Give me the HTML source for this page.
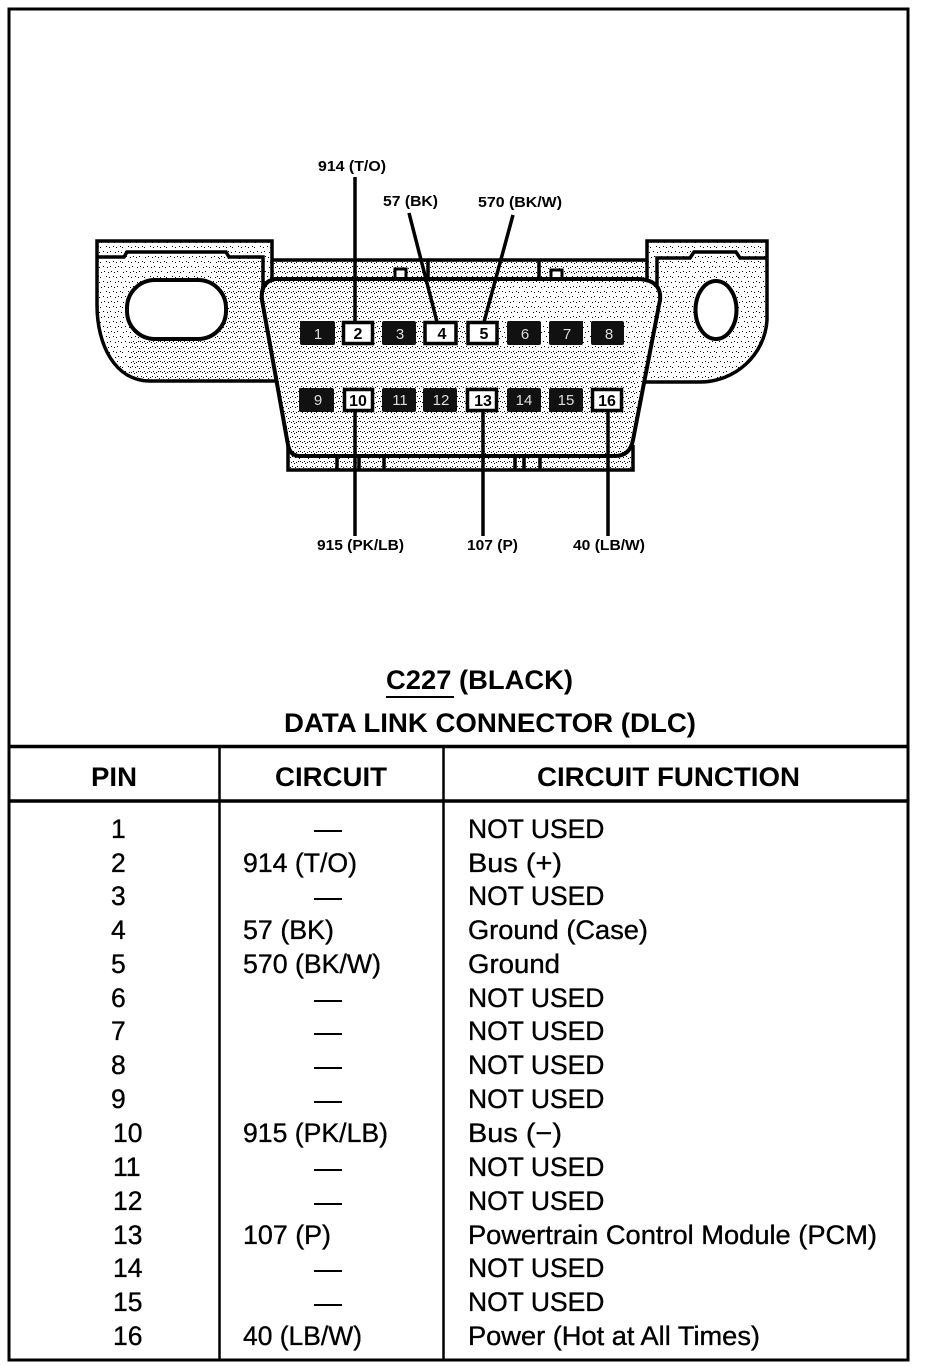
<!DOCTYPE html>
<html><head><meta charset="utf-8"><style>
html,body{margin:0;padding:0;background:#fff;width:928px;height:1370px;overflow:hidden}
svg{display:block}
text{font-family:"Liberation Sans",sans-serif;fill:#000}
.t{font-size:26.5px;stroke:#000;stroke-width:.35px}
.h{font-size:26.5px;font-weight:bold}
.l{font-size:14.5px;font-weight:bold;stroke:none}
.w{font-size:15px;fill:#ddd;text-anchor:middle}
.b{font-size:16px;font-weight:bold;text-anchor:middle}
.ln{stroke:#000;fill:none;stroke-width:3.5}
</style></head><body>
<svg width="928" height="1370" viewBox="0 0 928 1370" xmlns="http://www.w3.org/2000/svg">
<defs>
<pattern id="s" width="22" height="15" patternUnits="userSpaceOnUse">
<rect width="22" height="15" fill="#fff"/>
<path fill="#000" d="M1 1h1v1h-1zM4 2h1v1h-1zM7 1h1v1h-1zM13 2h1v1h-1zM16 1h1v1h-1zM20 2h1v1h-1zM3 6h1v1h-1zM6 7h1v1h-1zM10 6h1v1h-1zM12 7h1v1h-1zM18 6h1v1h-1zM21 7h1v1h-1zM0 11h1v1h-1zM5 12h1v1h-1zM8 11h1v1h-1zM11 12h1v1h-1zM15 11h1v1h-1zM19 12h1v1h-1z"/>
</pattern>
<pattern id="m" width="20" height="10" patternUnits="userSpaceOnUse">
<rect width="20" height="10" fill="#fff"/>
<path fill="#000" d="M0 1h1v1h-1zM2 2h1v1h-1zM4 1h1v1h-1zM5 3h1v1h-1zM7 2h1v1h-1zM9 1h1v1h-1zM11 2h1v1h-1zM13 1h1v1h-1zM14 3h1v1h-1zM16 2h1v1h-1zM18 1h1v1h-1zM1 6h1v1h-1zM3 7h1v1h-1zM6 6h1v1h-1zM8 8h1v1h-1zM10 7h1v1h-1zM12 6h1v1h-1zM15 7h1v1h-1zM17 6h1v1h-1zM19 8h1v1h-1z"/>
</pattern>
<clipPath id="bd"><path d="M275 279H640Q662 281 660 300L633 440Q630 456 615 456H300Q290 456 288 445L262 300Q260 282 275 279Z"/></clipPath>
</defs>
<rect width="928" height="1370" fill="#fff"/>

<!-- top band -->
<rect x="272" y="260" width="376" height="22" fill="url(#m)"/>
<path class="ln" d="M272 260H648M428 260V280M539 260V280"/>
<rect x="395" y="269" width="11" height="10" fill="#fff" stroke="#000" stroke-width="3"/>
<rect x="551" y="270" width="11" height="10" fill="#fff" stroke="#000" stroke-width="3"/>

<!-- left ear -->
<path d="M97 241H272V381H150C115 381 97 345 97 305Z" fill="url(#s)"/>
<rect x="215" y="258" width="50" height="123" fill="url(#m)"/>
<rect x="130" y="340" width="140" height="40" fill="url(#m)"/>
<path class="ln" d="M280 381H150C115 381 97 345 97 305V241H272V282"/>
<path class="ln" stroke-width="3" d="M97 257H124L127 252H226L229 257H263V290"/>
<rect x="127" y="280" width="99" height="59" rx="28" ry="28" fill="#fff" stroke="#000" stroke-width="4"/>

<!-- right ear -->
<path d="M647 241H767V320C767 355 735 382 700 382H640Z" fill="url(#s)"/>
<path class="ln" d="M647 282V241H767V320C765 355 735 382 700 382H643"/>
<path class="ln" stroke-width="3" d="M657 285V258H690L694 252H736L740 258H767"/>
<ellipse cx="716" cy="310" rx="20.500" ry="29" fill="#fff" stroke="#000" stroke-width="4"/>

<!-- bottom band -->
<rect x="288" y="455" width="345" height="15" fill="url(#m)"/>
<path class="ln" d="M288 445V470H633V445"/>
<path class="ln" d="M337 456V470M359 456V470M384 456V470M515 456V470M524 456V470M540 456V470"/>

<!-- body -->
<path d="M275 279H640Q662 281 660 300L633 440Q630 456 615 456H300Q290 456 288 445L262 300Q260 282 275 279Z" fill="url(#s)"/>
<g clip-path="url(#bd)">
<rect x="260" y="279" width="240" height="180" fill="url(#m)"/>
<rect x="260" y="350" width="375" height="108" fill="url(#m)"/>
</g>
<path d="M275 279H640Q662 281 660 300L633 440Q630 456 615 456H300Q290 456 288 445L262 300Q260 282 275 279Z" fill="none" stroke="#000" stroke-width="4"/>

<!-- leaders -->
<path class="ln" stroke-width="3.500" d="M355 177V322M409 213L437 322M513 215L484 322M355 412V536M483 412V536M608 412V536"/>

<!-- pins -->
<g fill="#111">
<rect x="300" y="321" width="35" height="24" rx="2"/><rect x="382" y="321" width="34" height="24" rx="2"/>
<rect x="507" y="321" width="34" height="24" rx="2"/><rect x="549" y="321" width="34" height="24" rx="2"/><rect x="591" y="321" width="33" height="24" rx="2"/>
<rect x="299" y="388" width="35" height="24" rx="2"/><rect x="382" y="388" width="34" height="24" rx="2"/><rect x="423" y="388" width="34" height="24" rx="2"/>
<rect x="507" y="388" width="34" height="24" rx="2"/><rect x="549" y="388" width="34" height="24" rx="2"/>
</g>
<g fill="#fff" stroke="#000" stroke-width="3.500">
<rect x="343.500" y="322.500" width="29" height="21"/><rect x="425" y="322.500" width="31" height="21"/><rect x="468" y="322.500" width="29" height="21"/>
<rect x="344.500" y="389.500" width="28" height="21"/><rect x="467.500" y="389.500" width="29" height="21"/><rect x="592.500" y="389.500" width="29" height="21"/>
</g>
<text class="w" x="318" y="339">1</text><text class="b" x="358" y="339">2</text><text class="w" x="400" y="339">3</text><text class="b" x="442" y="339">4</text><text class="b" x="484" y="339">5</text><text class="w" x="525" y="339">6</text><text class="w" x="567" y="339">7</text><text class="w" x="609" y="339">8</text>
<text class="w" x="318" y="405">9</text><text class="b" x="358" y="406">10</text><text class="w" x="400" y="405">11</text><text class="w" x="441" y="405">12</text><text class="b" x="483" y="406">13</text><text class="w" x="524" y="405">14</text><text class="w" x="566" y="405">15</text><text class="b" x="607" y="406">16</text>

<!-- leader labels -->
<text class="l" x="318" y="171" textLength="68" lengthAdjust="spacingAndGlyphs">914 (T/O)</text>
<text class="l" x="383" y="206" textLength="55" lengthAdjust="spacingAndGlyphs">57 (BK)</text>
<text class="l" x="478" y="207" textLength="84" lengthAdjust="spacingAndGlyphs">570 (BK/W)</text>
<text class="l" x="317" y="550" textLength="87" lengthAdjust="spacingAndGlyphs">915 (PK/LB)</text>
<text class="l" x="467" y="550" textLength="51" lengthAdjust="spacingAndGlyphs">107 (P)</text>
<text class="l" x="573" y="550" textLength="72" lengthAdjust="spacingAndGlyphs">40 (LB/W)</text>

<!-- frame and table -->
<rect x="9" y="9" width="899" height="1351" fill="none" stroke="#000" stroke-width="3"/>
<path d="M9 746.500H908M9 801H908" stroke="#000" stroke-width="3.500" fill="none"/>
<path d="M219.500 746V1360M443.500 746V1360" stroke="#000" stroke-width="2.500" fill="none"/>

<text class="h" x="386" y="689" textLength="187" lengthAdjust="spacingAndGlyphs">C227 (BLACK)</text>
<path d="M386 697H454" stroke="#000" stroke-width="2"/>
<text class="h" x="284" y="732" textLength="412" lengthAdjust="spacingAndGlyphs">DATA LINK CONNECTOR (DLC)</text>
<text class="h" x="91" y="786" textLength="46" lengthAdjust="spacingAndGlyphs">PIN</text>
<text class="h" x="275" y="786" textLength="112" lengthAdjust="spacingAndGlyphs">CIRCUIT</text>
<text class="h" x="537" y="786" textLength="263" lengthAdjust="spacingAndGlyphs">CIRCUIT FUNCTION</text>

<g>
<text class="t" x="111" y="838">1</text><text class="t" x="111" y="872">2</text><text class="t" x="111" y="905">3</text><text class="t" x="111" y="939">4</text><text class="t" x="111" y="973">5</text><text class="t" x="111" y="1007">6</text><text class="t" x="111" y="1040">7</text><text class="t" x="111" y="1074">8</text><text class="t" x="111" y="1108">9</text>
<text class="t" x="113" y="1142">10</text><text class="t" x="113" y="1176">11</text><text class="t" x="113" y="1210">12</text><text class="t" x="113" y="1244">13</text><text class="t" x="113" y="1277">14</text><text class="t" x="113" y="1311">15</text><text class="t" x="113" y="1345">16</text>
<text class="t" x="243" y="872" textLength="114" lengthAdjust="spacingAndGlyphs">914 (T/O)</text><text class="t" x="243" y="939" textLength="91" lengthAdjust="spacingAndGlyphs">57 (BK)</text><text class="t" x="243" y="973" textLength="138" lengthAdjust="spacingAndGlyphs">570 (BK/W)</text><text class="t" x="243" y="1142" textLength="145" lengthAdjust="spacingAndGlyphs">915 (PK/LB)</text><text class="t" x="243" y="1244" textLength="88" lengthAdjust="spacingAndGlyphs">107 (P)</text><text class="t" x="243" y="1345" textLength="119" lengthAdjust="spacingAndGlyphs">40 (LB/W)</text>
<text class="t" x="468" y="838">NOT USED</text><text class="t" x="468" y="872" textLength="94" lengthAdjust="spacingAndGlyphs">Bus (+)</text><text class="t" x="468" y="905">NOT USED</text><text class="t" x="468" y="939" textLength="180" lengthAdjust="spacingAndGlyphs">Ground (Case)</text><text class="t" x="468" y="973" textLength="92" lengthAdjust="spacingAndGlyphs">Ground</text><text class="t" x="468" y="1007">NOT USED</text><text class="t" x="468" y="1040">NOT USED</text><text class="t" x="468" y="1074">NOT USED</text><text class="t" x="468" y="1108">NOT USED</text><text class="t" x="468" y="1142" textLength="94" lengthAdjust="spacingAndGlyphs">Bus (−)</text><text class="t" x="468" y="1176">NOT USED</text><text class="t" x="468" y="1210">NOT USED</text><text class="t" x="468" y="1244" textLength="409" lengthAdjust="spacingAndGlyphs">Powertrain Control Module (PCM)</text><text class="t" x="468" y="1277">NOT USED</text><text class="t" x="468" y="1311">NOT USED</text><text class="t" x="468" y="1345" textLength="292" lengthAdjust="spacingAndGlyphs">Power (Hot at All Times)</text>
</g>
<path d="M314 831H342M314 899H342M314 1001H342M314 1034H342M314 1068H342M314 1102H342M314 1170H342M314 1204H342M314 1271H342M314 1305H342" stroke="#000" stroke-width="2"/>
</svg>
</body></html>
